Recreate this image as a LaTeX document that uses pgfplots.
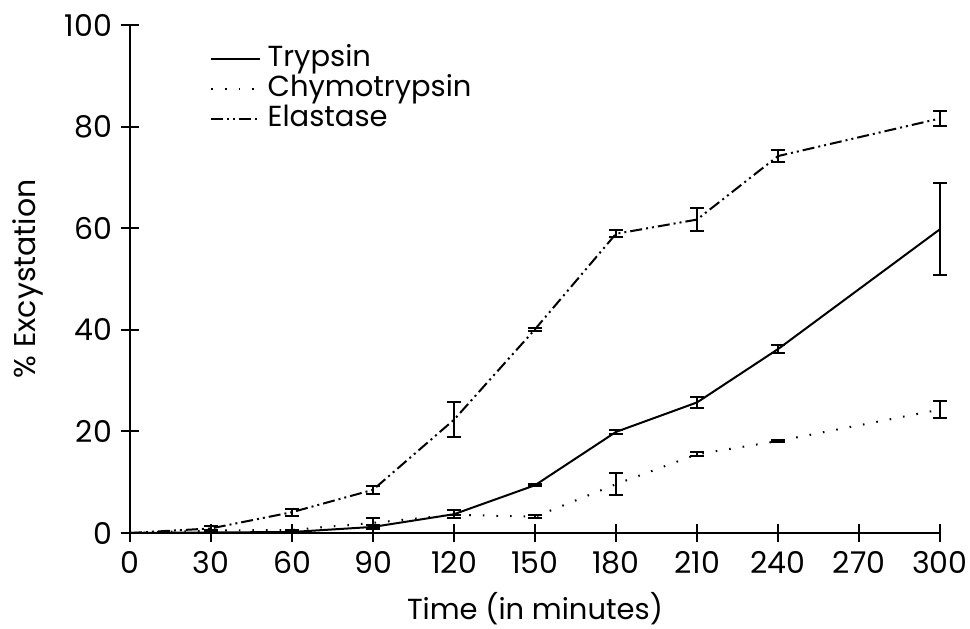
\documentclass[border=0pt]{standalone}
\usepackage{fontspec}
\setmainfont{Poppins}
\usepackage{pgfplots}
\pgfplotsset{compat=1.18}
\usepackage{pgfplotstable}

\pgfplotstableread{
t   y     e
0   0     0
30  0.1   0
60  0.2   0
90  1.2   0.4
120 3.7   0.8
150 9.4   0.2
180 19.9  0.4
210 25.7  1.0
240 36.2  0.8
300 59.8  9.0
}\trypsin

\pgfplotstableread{
t   y     e
0   0     0
30  0.5   0
60  0.6   0
90  2.0   1.0
120 3.6   0
150 3.2   0.3
180 9.6   2.2
210 15.5  0.4
240 18.1  0.2
300 24.3  1.6
}\chymo

\pgfplotstableread{
t   y     e
0   0     0
30  0.9   0.5
60  4.1   0.7
90  8.5   0.8
120 22.3  3.4
150 40.1  0.3
180 58.9  0.7
210 61.7  2.3
240 74.2  1.2
300 81.6  1.4
}\elastase

\begin{document}
\begin{tikzpicture}
\useasboundingbox (-65pt,-47.5pt) rectangle (420pt,266.5pt);
\begin{axis}[
    scale only axis,
    width=405pt, height=254pt,
    xmin=0, xmax=300, ymin=0, ymax=100,
    clip=false,
    axis lines=left,
    axis line style={line width=1pt, -},
    xtick={0,30,...,300},
    ytick={0,20,...,100},
    tick align=center,
    major tick length=9pt,
    tick style={line width=1pt, black},
    font=\fontsize{15}{17}\selectfont,
    /pgf/number format/assume math mode=true,
    xticklabel style={yshift=-1pt},
    yticklabel style={xshift=-1pt},
    xlabel={Time (in minutes)},
    ylabel={\% Excystation},
    xlabel style={font=\fontsize{14.5}{16}\selectfont, yshift=-2.5pt},
    ylabel style={yshift=4pt},
    legend style={draw=none, fill=none, at={(axis cs:29.6,96)}, anchor=north west,
        font=\fontsize{14.5}{16}\selectfont, row sep=1.5pt, inner sep=0pt,
        nodes={text height=10.5pt, text depth=3pt, inner ysep=0pt, inner xsep=3.5pt}},
    legend cell align=left,
    legend image code/.code={\draw[#1] (0cm,0cm) -- (0.85cm,0cm);},
    every axis plot/.append style={black, line width=1pt},
    error bars/y dir=both, error bars/y explicit,
    error bars/error mark options={rotate=90, mark size=3.5pt, line width=1pt},
    error bars/error bar style={line width=1pt, solid},
]
\addplot[solid, mark=none] table[x=t, y=y, y error=e] {\trypsin};
\addlegendentry{Trypsin}
\addplot[dash pattern=on 0.8pt off 6pt, mark=none] table[x=t, y=y, y error=e] {\chymo};
\addlegendentry{Chymotrypsin}
\addplot[dash pattern=on 6pt off 2pt on 1pt off 2pt on 1pt off 2pt, mark=none] table[x=t, y=y, y error=e] {\elastase};
\addlegendentry{Elastase}
\end{axis}
\end{tikzpicture}
\end{document}
